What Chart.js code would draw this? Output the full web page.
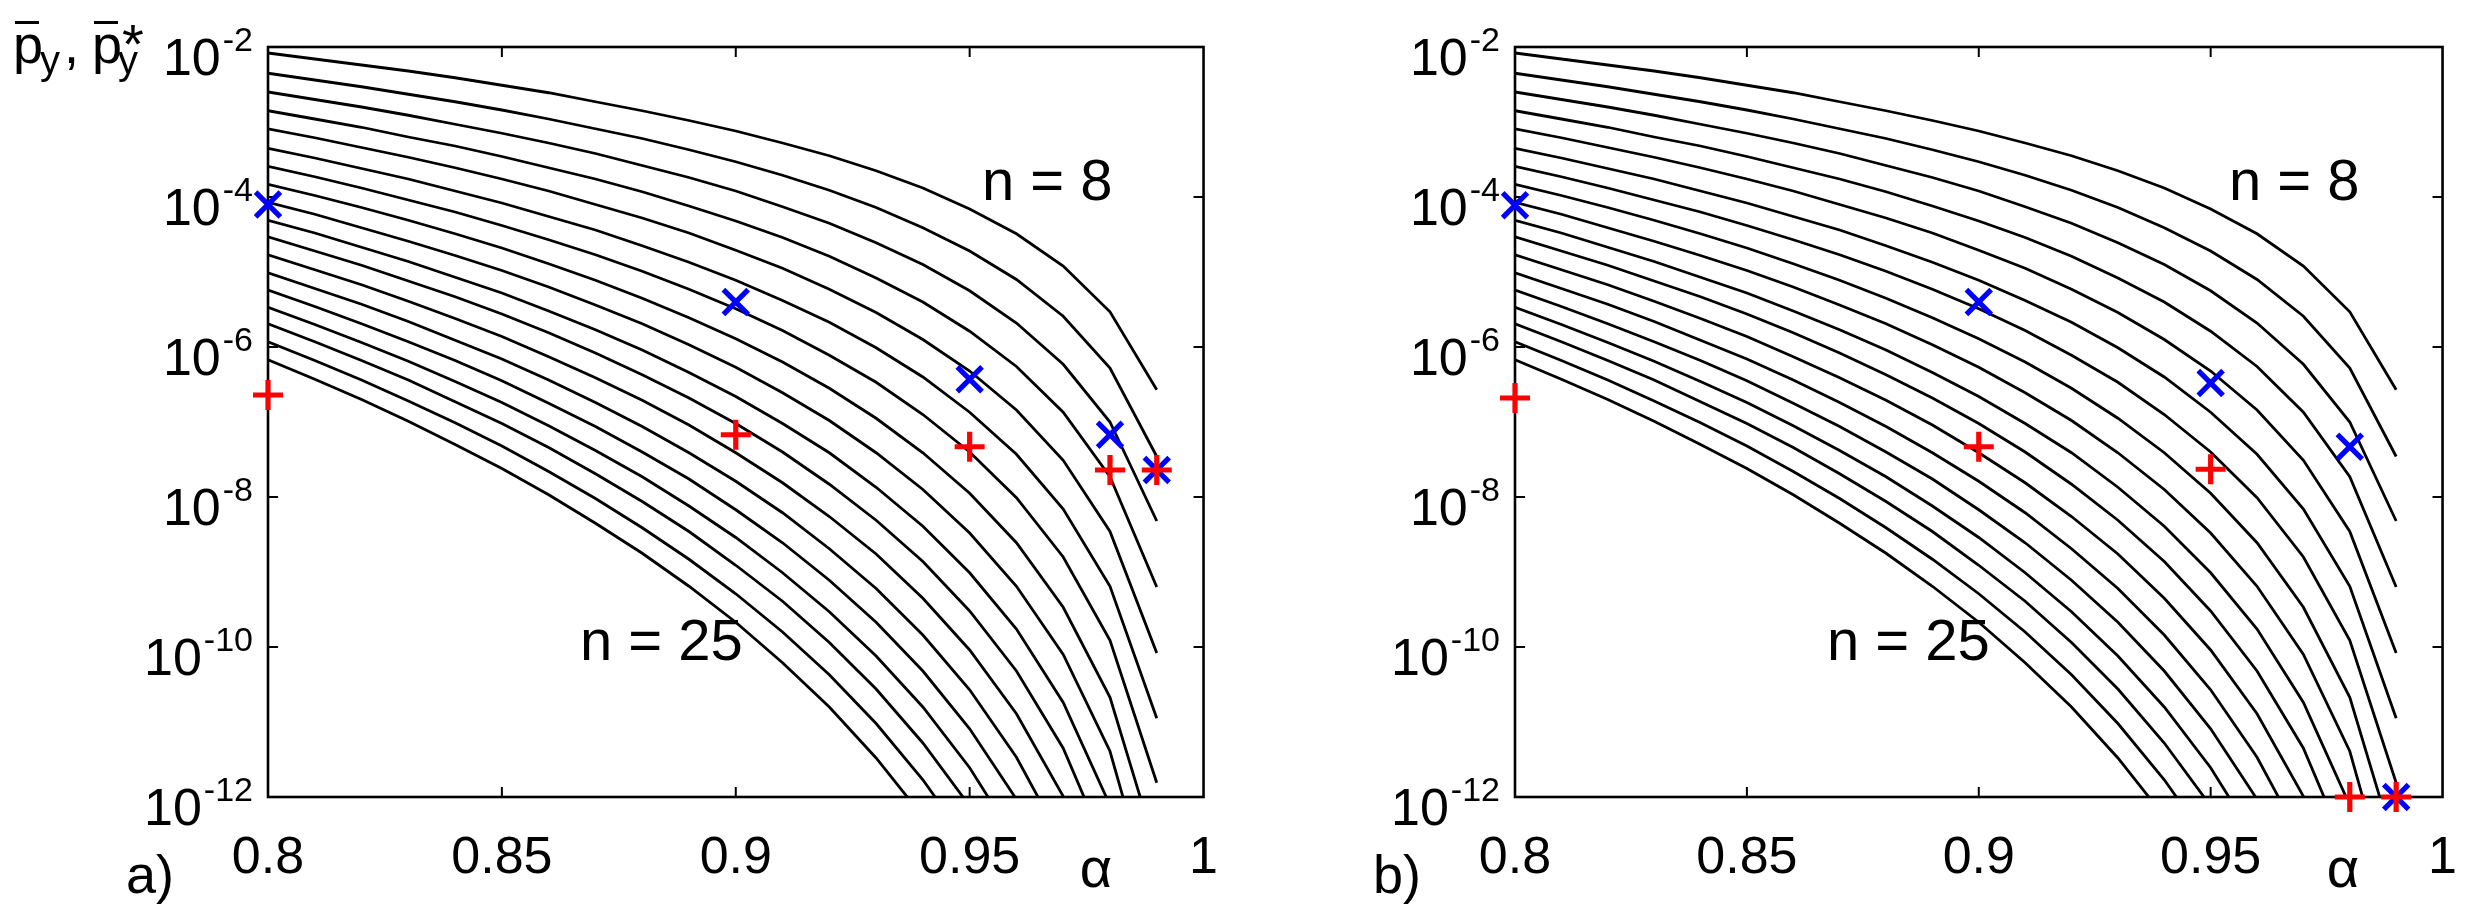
<!DOCTYPE html>
<html>
<head>
<meta charset="utf-8">
<script src="https://cdn.jsdelivr.net/npm/chart.js@4.4.1/dist/chart.umd.min.js"></script>
<style>
  html, body { margin: 0; padding: 0; background: #fff; width: 2479px; height: 917px; overflow: hidden; }
  canvas { position: absolute; top: 0; }
  #panelA { left: 0; }
  #panelB { left: 1247px; }
</style>
</head>
<body>
<canvas id="panelA" width="1240" height="917"></canvas>
<canvas id="panelB" width="1232" height="917"></canvas>
<script>
// alpha grid of the curves
const alpha = [0.80, 0.81, 0.82, 0.83, 0.84, 0.85, 0.86, 0.87, 0.88, 0.89,
               0.90, 0.91, 0.92, 0.93, 0.94, 0.95, 0.96, 0.97, 0.98, 0.99];

// curves as log10(p), one per n
const logP8  = [-2.08, -2.16, -2.24, -2.32, -2.41, -2.51, -2.61, -2.73, -2.85, -2.98, -3.12, -3.28, -3.45, -3.65, -3.88, -4.16, -4.49, -4.92, -5.53, -6.57];
const logP9  = [-2.35, -2.44, -2.53, -2.63, -2.73, -2.84, -2.96, -3.09, -3.22, -3.37, -3.53, -3.71, -3.91, -4.14, -4.41, -4.72, -5.10, -5.59, -6.28, -7.46];
const logP10 = [-2.60, -2.70, -2.80, -2.91, -3.03, -3.15, -3.28, -3.42, -3.58, -3.74, -3.92, -4.13, -4.35, -4.61, -4.90, -5.25, -5.68, -6.23, -7.00, -8.32];
const logP11 = [-2.85, -2.96, -3.07, -3.20, -3.32, -3.46, -3.61, -3.76, -3.93, -4.12, -4.32, -4.54, -4.79, -5.08, -5.40, -5.79, -6.26, -6.87, -7.73, -9.20];
const logP12 = [-3.09, -3.21, -3.34, -3.47, -3.61, -3.76, -3.92, -4.10, -4.28, -4.48, -4.71, -4.95, -5.23, -5.54, -5.90, -6.32, -6.84, -7.51, -8.46, -10.08];
const logP13 = [-3.35, -3.48, -3.62, -3.76, -3.92, -4.08, -4.26, -4.44, -4.65, -4.87, -5.11, -5.38, -5.67, -6.01, -6.40, -6.87, -7.43, -8.16, -9.19, -10.95];
const logP14 = [-3.59, -3.73, -3.88, -4.04, -4.20, -4.38, -4.57, -4.77, -4.99, -5.23, -5.49, -5.78, -6.11, -6.47, -6.90, -7.40, -8.01, -8.80, -9.91, -11.81];
const logP15 = [-3.83, -3.98, -4.14, -4.31, -4.49, -4.68, -4.89, -5.11, -5.35, -5.61, -5.89, -6.20, -6.55, -6.95, -7.41, -7.95, -8.61, -9.47, -10.67, -12.73];
const logP16 = [-4.07, -4.23, -4.41, -4.59, -4.78, -4.98, -5.20, -5.44, -5.69, -5.97, -6.27, -6.61, -6.98, -7.41, -7.90, -8.48, -9.19, -10.10, -11.39, -13.59];
const logP17 = [-4.31, -4.48, -4.67, -4.86, -5.07, -5.28, -5.52, -5.77, -6.04, -6.34, -6.66, -7.02, -7.41, -7.87, -8.39, -9.01, -9.76, -10.74, -12.11];
const logP18 = [-4.53, -4.72, -4.91, -5.12, -5.33, -5.56, -5.81, -6.08, -6.37, -6.68, -7.02, -7.40, -7.83, -8.31, -8.86, -9.52, -10.32, -11.35, -12.81];
const logP19 = [-4.77, -4.97, -5.17, -5.39, -5.62, -5.86, -6.13, -6.41, -6.71, -7.04, -7.41, -7.81, -8.26, -8.76, -9.35, -10.04, -10.89, -11.99, -13.53];
const logP20 = [-5.01, -5.22, -5.43, -5.66, -5.91, -6.16, -6.44, -6.74, -7.06, -7.41, -7.79, -8.21, -8.69, -9.22, -9.84, -10.57, -11.47, -12.62];
const logP21 = [-5.24, -5.46, -5.69, -5.93, -6.18, -6.45, -6.75, -7.06, -7.40, -7.76, -8.17, -8.61, -9.11, -9.67, -10.32, -11.09, -12.03, -13.25];
const logP22 = [-5.47, -5.70, -5.94, -6.19, -6.46, -6.74, -7.05, -7.38, -7.73, -8.12, -8.54, -9.01, -9.53, -10.12, -10.80, -11.61, -12.60];
const logP23 = [-5.69, -5.93, -6.18, -6.44, -6.73, -7.02, -7.34, -7.69, -8.06, -8.46, -8.91, -9.39, -9.94, -10.56, -11.28, -12.12];
const logP24 = [-5.93, -6.18, -6.44, -6.72, -7.01, -7.32, -7.66, -8.02, -8.41, -8.83, -9.29, -9.80, -10.37, -11.02, -11.77, -12.65];
const logP25 = [-6.17, -6.43, -6.70, -6.99, -7.30, -7.62, -7.97, -8.35, -8.75, -9.19, -9.67, -10.21, -10.80, -11.48, -12.26];

// markers (log10 values)
const markAlpha = [0.80, 0.90, 0.95, 0.98, 0.99];
const blueA = [-4.10, -5.40, -6.43, -7.17, -7.64];
const redA  = [-6.64, -7.17, -7.33, -7.64, -7.64];
const blueB = [-4.11, -5.40, -6.48, -7.33, -12.0];
const redB  = [-6.68, -7.33, -7.63, -12.0, -12.0];

// axes
const xTicks = [0.8, 0.85, 0.9, 0.95, 1];
const yTickExps = [-2, -4, -6, -8, -10, -12];

const curves = [logP8, logP9, logP10, logP11, logP12, logP13, logP14, logP15, logP16,
                logP17, logP18, logP19, logP20, logP21, logP22, logP23, logP24, logP25];

const FAMILY = '"Liberation Sans", Arial, Helvetica, sans-serif';
const font = s => s + 'px ' + FAMILY;

const framePlugin = {
  id: 'frame',
  beforeDatasetsDraw(chart) {
    const { ctx, chartArea: a, scales } = chart;
    ctx.save();
    ctx.strokeStyle = '#000';
    ctx.lineWidth = 2.6;
    ctx.strokeRect(a.left, a.top, a.right - a.left, a.bottom - a.top);
    ctx.lineWidth = 2;
    ctx.beginPath();
    xTicks.slice(1, -1).forEach(v => {
      const px = scales.x.getPixelForValue(v);
      ctx.moveTo(px, a.top); ctx.lineTo(px, a.top + 10);
      ctx.moveTo(px, a.bottom); ctx.lineTo(px, a.bottom - 10);
    });
    yTickExps.slice(1, -1).forEach(e => {
      const py = scales.y.getPixelForValue(Math.pow(10, e));
      ctx.moveTo(a.left, py); ctx.lineTo(a.left + 10, py);
      ctx.moveTo(a.right, py); ctx.lineTo(a.right - 10, py);
    });
    ctx.stroke();
    ctx.restore();
  },
  afterDraw(chart, args, opts) {
    const { ctx, chartArea: a, scales } = chart;
    ctx.save();
    ctx.fillStyle = '#000';
    ctx.textBaseline = 'alphabetic';

    // y tick labels 10^e
    yTickExps.forEach(e => {
      const py = scales.y.getPixelForValue(Math.pow(10, e));
      const sup = String(e);
      const supX = a.left - 15;
      ctx.textAlign = 'right';
      ctx.font = font(34);
      ctx.fillText(sup, supX, py + 4);
      const w = ctx.measureText(sup).width;
      ctx.font = font(52);
      ctx.fillText('10', supX - w - 2, py + 28);
    });

    // curve labels
    ctx.textAlign = 'left';
    ctx.font = font(58);
    ctx.fillText('n = 8', a.left + 714, 200);
    ctx.fillText('n = 25', a.left + 312, 660);

    // x axis title and panel tag
    ctx.font = font(56);
    ctx.textAlign = 'center';
    ctx.fillText('\u03b1', a.left + 828, 887);
    ctx.textAlign = 'left';
    ctx.font = font(54);
    ctx.fillText(opts.tag, a.left - 142, 893);

    // y axis title
    if (opts.title) {
      ctx.font = font(54);
      ctx.fillText('p', 13, 63);
      ctx.fillRect(15, 21, 24, 3);
      ctx.font = font(40);
      ctx.fillText('y', 40, 74);
      ctx.font = font(54);
      ctx.fillText(',', 64, 63);
      ctx.fillText('p', 92, 63);
      ctx.fillRect(94, 21, 24, 3);
      ctx.font = font(40);
      ctx.fillText('y', 118, 74);
      ctx.font = font(56);
      ctx.fillText('*', 122, 63);
    }
    ctx.restore();
  }
};

function makePanel(id, blue, red, tag, title, padRight) {
  const datasets = [
    {
      data: markAlpha.map((a, i) => ({ x: a, y: Math.pow(10, red[i]) })),
      showLine: false, pointStyle: 'cross', pointRadius: 15,
      pointBorderWidth: 5.2, borderColor: '#ff0000', backgroundColor: '#ff0000',
      clip: false
    },
    {
      data: markAlpha.map((a, i) => ({ x: a, y: Math.pow(10, blue[i]) })),
      showLine: false, pointStyle: 'crossRot', pointRadius: 17.5,
      pointBorderWidth: 5.2, borderColor: '#0000ff', backgroundColor: '#0000ff',
      clip: false
    }
  ];
  curves.forEach(c => {
    datasets.push({
      data: c.map((v, i) => ({ x: alpha[i], y: Math.pow(10, v) })),
      showLine: true, pointRadius: 0, borderColor: '#000', borderWidth: 2.8,
      tension: 0, fill: false
    });
  });

  return new Chart(document.getElementById(id), {
    type: 'scatter',
    data: { datasets: datasets },
    plugins: [framePlugin],
    options: {
      responsive: false,
      animation: false,
      events: [],
      layout: { padding: { left: 268, right: padRight, top: 47, bottom: 0 } },
      plugins: {
        legend: { display: false },
        tooltip: { enabled: false },
        frame: { tag: tag, title: title }
      },
      scales: {
        x: {
          type: 'linear', min: 0.8, max: 1,
          grid: { display: false }, border: { display: false },
          afterBuildTicks: s => { s.ticks = xTicks.map(v => ({ value: v })); },
          afterFit: s => { s.height = 120; },
          ticks: {
            autoSkip: false, maxRotation: 0, padding: 22, color: '#000',
            font: { size: 52, family: FAMILY },
            callback: v => String(v)
          }
        },
        y: {
          type: 'logarithmic', min: 1e-12, max: 1e-2,
          grid: { display: false }, border: { display: false },
          afterBuildTicks: s => { s.ticks = yTickExps.map(e => ({ value: Math.pow(10, e) })); },
          afterFit: s => { s.width = 0; },
          ticks: { display: false }
        }
      }
    }
  });
}

makePanel('panelA', blueA, redA, 'a)', true, 25);
makePanel('panelB', blueB, redB, 'b)', false, 17);
</script>
</body>
</html>
